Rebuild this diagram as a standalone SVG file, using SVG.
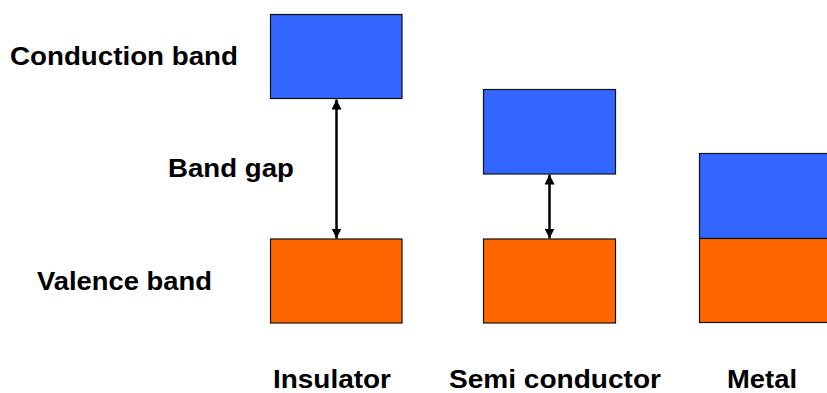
<svg xmlns="http://www.w3.org/2000/svg" width="827" height="393" viewBox="0 0 827 393">
  <style>
    .lbl { font-family: "Liberation Sans", Arial, sans-serif; font-weight: bold; font-size: 26px; fill: #000; }
    .cb { fill: #3366FF; stroke: #111; stroke-width: 1.2; }
    .vb { fill: #FF6600; stroke: #111; stroke-width: 1.2; }
    .gap { stroke: #000; stroke-width: 2.5; fill: none; marker-start: url(#head); marker-end: url(#head); }
  </style>
  <defs>
    <marker id="head" viewBox="0 0 10 10" refX="10" refY="5" markerWidth="4" markerHeight="4" orient="auto-start-reverse" markerUnits="strokeWidth">
      <path d="M0,0 L10,5 L0,10 Z" fill="#000"/>
    </marker>
  </defs>
  <rect width="827" height="393" fill="#fff"/>

  <!-- side labels -->
  <g id="labels">
    <text class="lbl" x="10" y="65" textLength="228" lengthAdjust="spacingAndGlyphs">Conduction band</text>
    <text class="lbl" x="168" y="177" textLength="126" lengthAdjust="spacingAndGlyphs">Band gap</text>
    <text class="lbl" x="37" y="290" textLength="175" lengthAdjust="spacingAndGlyphs">Valence band</text>
  </g>

  <!-- insulator -->
  <g id="insulator">
    <rect class="cb" x="270.5" y="14.5" width="131.5" height="84"/>
    <rect class="vb" x="270.5" y="239" width="131.5" height="84"/>
    <text class="lbl" x="273" y="387.5" textLength="118" lengthAdjust="spacingAndGlyphs">Insulator</text>
  </g>

  <!-- semiconductor -->
  <g id="semiconductor">
    <rect class="cb" x="483.5" y="89.5" width="132" height="84.5"/>
    <rect class="vb" x="483.5" y="239" width="132" height="84"/>
    <text class="lbl" x="449" y="387.5" textLength="212" lengthAdjust="spacingAndGlyphs">Semi conductor</text>
  </g>

  <!-- metal -->
  <g id="metal">
    <rect class="cb" x="699.5" y="153.5" width="140" height="85"/>
    <rect class="vb" x="699.5" y="238.5" width="140" height="84"/>
    <text class="lbl" x="727" y="387.5" textLength="70" lengthAdjust="spacingAndGlyphs">Metal</text>
  </g>

  <!-- band gap arrows -->
  <g id="connectors">
    <line class="gap" x1="336.5" y1="99.5" x2="336.5" y2="238.5"/>
    <line class="gap" x1="549.5" y1="174.5" x2="549.5" y2="238.5"/>
  </g>
</svg>
